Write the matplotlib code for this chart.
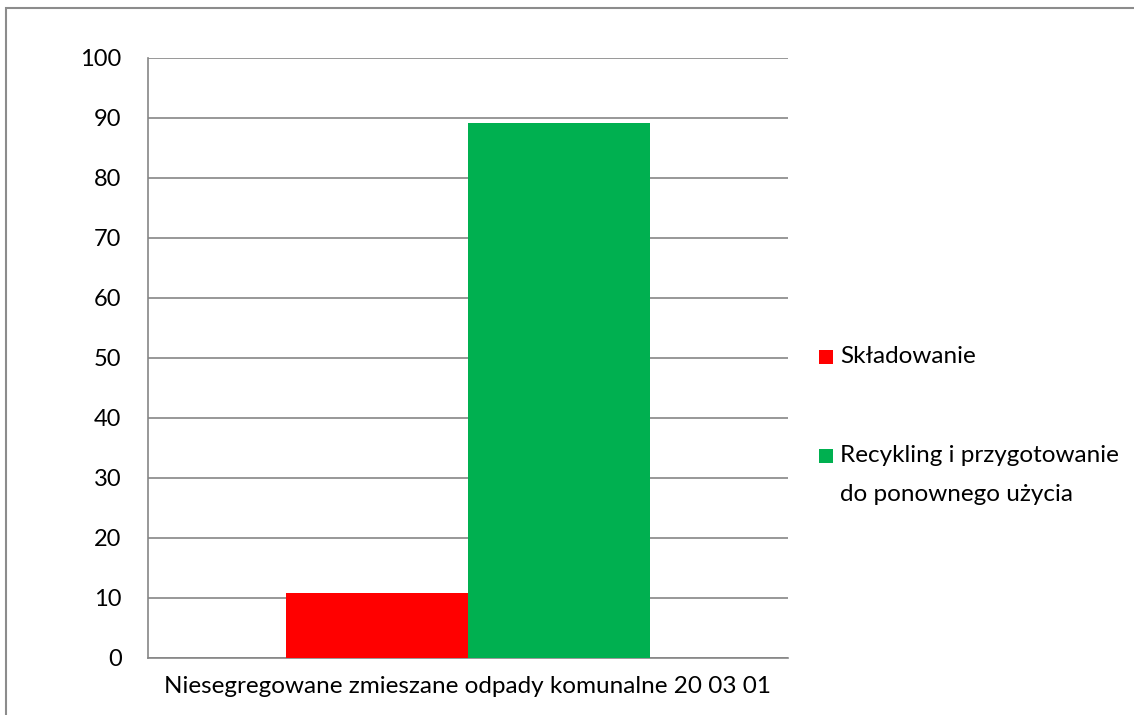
import matplotlib
matplotlib.use("Agg")
import matplotlib.pyplot as plt
from matplotlib.patches import Rectangle

plt.rcParams['font.family'] = ['Lato', 'DejaVu Sans']

# dane
category = ["Niesegregowane zmieszane odpady komunalne 20 03 01"]
series_names = ["Składowanie", "Recykling i przygotowanie\ndo ponownego użycia"]
series_values = [10.9, 89.1]
series_colors = ["#ff0000", "#00b050"]
y_ticks = list(range(0, 101, 10))

W, H = 1134, 715
fig = plt.figure(figsize=(W / 100, H / 100), dpi=100)

# ramka wykresu
fig.patches.append(Rectangle((6 / W, -0.2), 1.2, 1.2 - 8 / H, transform=fig.transFigure,
                             fill=False, edgecolor="#8c8c8c", linewidth=1.5))

ax = fig.add_axes([148 / W, 1 - 658 / H, 640 / W, 600 / H])
bar_w = 0.284
offsets = [-bar_w / 2, bar_w / 2]
for name, val, col, off in zip(series_names, series_values, series_colors, offsets):
    ax.bar(0 + off, val, width=bar_w, color=col, zorder=3)

ax.set_xlim(-0.5, 0.5)
ax.set_ylim(0, 100)
ax.set_yticks(y_ticks)
ax.set_xticks([0])
ax.set_xticklabels(category, fontsize=17.5)
ax.tick_params(axis="both", length=0)
ax.tick_params(axis="y", pad=19, labelsize=17)
ax.tick_params(axis="x", pad=13)
ax.yaxis.grid(True, color="#868686", linewidth=1.2, zorder=0)
for s in ["top", "right"]:
    ax.spines[s].set_visible(False)
for s in ["left", "bottom"]:
    ax.spines[s].set_color("#868686")
    ax.spines[s].set_linewidth(1.2)

# legenda
leg_y = [357, 456]
for name, col, y in zip(series_names, series_colors, leg_y):
    fig.patches.append(Rectangle((819 / W, 1 - (y + 7) / H), 14 / W, 14 / H,
                                 transform=fig.transFigure, facecolor=col, edgecolor="none"))
    fig.text(840 / W, 1 - (y - 11) / H, name, fontsize=17.5, va="top", ha="left",
             linespacing=2.05)

fig.savefig("out.png", dpi=100)
